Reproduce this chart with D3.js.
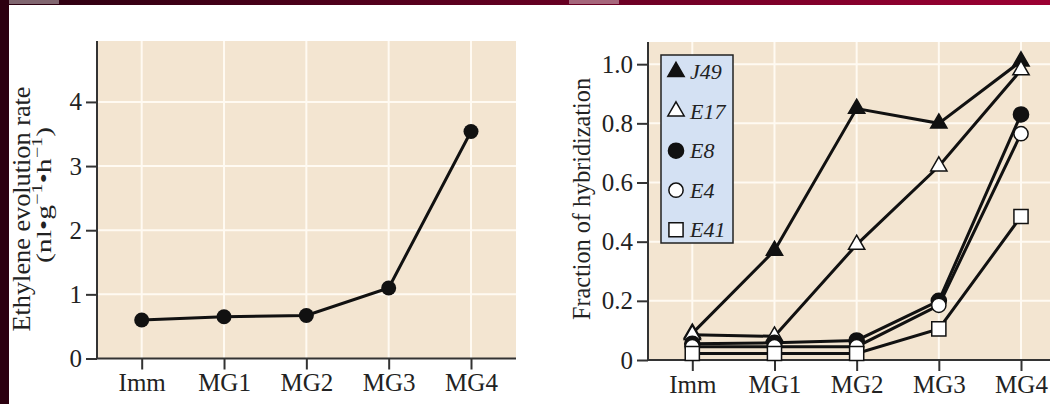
<!DOCTYPE html>
<html>
<head>
<meta charset="utf-8">
<script src="https://cdn.jsdelivr.net/npm/d3@7"></script>
<style>
body { margin: 0; background: #fff; }
svg { display: block; }
.tick line { stroke: #333; stroke-width: 2; }
.axis_title { font-family: "Liberation Serif", serif; font-size: 25px; fill: #222; }
.legend_label { font-family: "Liberation Serif", serif; font-size: 22px; font-style: italic; fill: #222; }
</style>
</head>
<body>
<svg width="1050" height="404"></svg>
<script>
// stages along both x axes
var stages = ["Imm", "MG1", "MG2", "MG3", "MG4"];

// left panel: ethylene evolution rate
var ethylene = [0.60, 0.65, 0.67, 1.10, 3.54];
var ethyleneTicks = [0, 1, 2, 3, 4];

// right panel: fraction of hybridization per probe
var probes = ["J49", "E17", "E8", "E4", "E41"];
var j49 = [0.09, 0.37, 0.85, 0.80, 1.01];
var e17 = [0.085, 0.08, 0.39, 0.655, 0.98];
var e8 = [0.055, 0.058, 0.066, 0.20, 0.83];
var e4 = [0.045, 0.045, 0.045, 0.185, 0.765];
var e41 = [0.022, 0.022, 0.022, 0.105, 0.485];
var fractionTicks = [0, 0.2, 0.4, 0.6, 0.8, 1.0];
var fractionLabels = ["0", "0.2", "0.4", "0.6", "0.8", "1.0"];

var svg = d3.select("svg");
var beige = "#f3e5d1";
var ink = "#111";

// page frame: dark band on top and left
var grad = svg.append("defs").append("linearGradient").attr("id", "band");
grad.append("stop").attr("offset", "0%").attr("stop-color", "#2a0010");
grad.append("stop").attr("offset", "100%").attr("stop-color", "#9c0033");
svg.append("rect").attr("x", 0).attr("y", 0).attr("width", 1050).attr("height", 5).attr("fill", "url(#band)");
svg.append("rect").attr("x", 0).attr("y", 0).attr("width", 9).attr("height", 404).attr("fill", "#2c0010");
svg.append("rect").attr("x", 9).attr("y", 0).attr("width", 50).attr("height", 4).attr("fill", "#fff").attr("opacity", 0.4);
svg.append("rect").attr("x", 569).attr("y", 0).attr("width", 50).attr("height", 4).attr("fill", "#fff").attr("opacity", 0.4);

function styleAxis(a) {
	a.select(".domain").remove();
	a.attr("font-family", "'Liberation Serif', serif").attr("font-size", 25);
	a.selectAll("text").attr("fill", "#222");
}

function drawPanel(opts) {
	var g = svg.append("g");
	var x = opts.x, y = opts.y;
	var left = opts.left, right = opts.right;
	var top = y.range()[1], bottom = y.range()[0];

	g.append("rect")
		.attr("x", left).attr("y", top)
		.attr("width", right - left).attr("height", bottom - top)
		.attr("fill", beige);

	// white grid
	g.selectAll(".vgrid")
		.data(stages)
		.enter()
		.append("line")
		.attr("x1", function(d) { return x(d); })
		.attr("x2", function(d) { return x(d); })
		.attr("y1", top).attr("y2", bottom)
		.attr("stroke", "#fffaf2").attr("stroke-width", 2);

	g.selectAll(".hgrid")
		.data(opts.ticks.filter(function(t) { return t > 0; }))
		.enter()
		.append("line")
		.attr("x1", left).attr("x2", right)
		.attr("y1", function(d) { return y(d); })
		.attr("y2", function(d) { return y(d); })
		.attr("stroke", "#fffaf2").attr("stroke-width", 2);

	var yAxis = d3.axisLeft(y)
		.tickValues(opts.ticks)
		.tickFormat(function(d, i) { return opts.labels[i]; })
		.tickSize(11).tickSizeOuter(0).tickPadding(4);
	g.append("g").attr("transform", "translate(" + left + ",0)").call(yAxis).call(styleAxis);

	var xAxis = d3.axisBottom(x).tickSize(11).tickSizeOuter(0).tickPadding(4);
	g.append("g").attr("transform", "translate(0," + bottom + ")").call(xAxis).call(styleAxis);

	g.append("path")
		.attr("d", "M" + left + "," + top + "V" + bottom + "H" + right)
		.attr("fill", "none").attr("stroke", "#333").attr("stroke-width", 2);

	return g;
}

// ---- left panel ----
var xl = d3.scalePoint().domain(stages).range([141.7, 471]);
var yl = d3.scaleLinear().domain([0, 4.95]).range([358.5, 41]);
var gl = drawPanel({ x: xl, y: yl, left: 97, right: 516, ticks: ethyleneTicks, labels: ethyleneTicks.map(String) });

var lineL = d3.line()
	.x(function(d, i) { return xl(stages[i]); })
	.y(function(d) { return yl(d); });

gl.append("path").datum(ethylene)
	.attr("d", lineL)
	.attr("fill", "none").attr("stroke", ink).attr("stroke-width", 3);

gl.selectAll(".dot")
	.data(ethylene)
	.enter()
	.append("circle")
	.attr("cx", function(d, i) { return xl(stages[i]); })
	.attr("cy", function(d) { return yl(d); })
	.attr("r", 7.5)
	.attr("fill", ink);

svg.append("text").attr("class", "axis_title")
	.attr("transform", "translate(30,209) rotate(-90)")
	.attr("text-anchor", "middle")
	.attr("textLength", 245).attr("lengthAdjust", "spacingAndGlyphs")
	.text("Ethylene evolution rate");

var unit = svg.append("text").attr("class", "axis_title")
	.attr("transform", "translate(51,195) rotate(-90)")
	.attr("text-anchor", "middle")
	.style("font-size", "22px")
	.attr("textLength", 136).attr("lengthAdjust", "spacingAndGlyphs");
unit.append("tspan").text("(nl\u2022g");
unit.append("tspan").attr("dy", -9).style("font-size", "15px").text("\u22121");
unit.append("tspan").attr("dy", 9).text("\u2022h");
unit.append("tspan").attr("dy", -9).style("font-size", "15px").text("\u22121");
unit.append("tspan").attr("dy", 9).text(")");

// ---- right panel ----
var xr = d3.scalePoint().domain(stages).range([692.3, 1021]);
var yr = d3.scaleLinear().domain([0, 1.075]).range([360, 42]);
var gr = drawPanel({ x: xr, y: yr, left: 648, right: 1050, ticks: fractionTicks, labels: fractionLabels });

var series = [
	{ name: "J49", values: j49, shape: d3.symbolTriangle, size: 115, fill: ink },
	{ name: "E17", values: e17, shape: d3.symbolTriangle, size: 115, fill: "#fff" },
	{ name: "E8", values: e8, shape: d3.symbolCircle, size: 180, fill: ink },
	{ name: "E4", values: e4, shape: d3.symbolCircle, size: 160, fill: "#fff" },
	{ name: "E41", values: e41, shape: d3.symbolSquare, size: 200, fill: "#fff" }
];

var lineR = d3.line()
	.x(function(d, i) { return xr(stages[i]); })
	.y(function(d) { return yr(d); });

series.forEach(function(s) {
	gr.append("path").datum(s.values)
		.attr("d", lineR)
		.attr("fill", "none").attr("stroke", ink).attr("stroke-width", 3);
});

series.forEach(function(s) {
	gr.selectAll(".m_" + s.name)
		.data(s.values)
		.enter()
		.append("path")
		.attr("transform", function(d, i) { return "translate(" + xr(stages[i]) + "," + yr(d) + ")"; })
		.attr("d", d3.symbol().type(s.shape).size(s.size))
		.attr("fill", s.fill).attr("stroke", ink).attr("stroke-width", 1.5);
});

svg.append("text").attr("class", "axis_title")
	.attr("transform", "translate(590,199) rotate(-90)")
	.attr("text-anchor", "middle")
	.attr("textLength", 242).attr("lengthAdjust", "spacingAndGlyphs")
	.text("Fraction of hybridization");

// legend
var legend = svg.append("g");
legend.append("rect")
	.attr("x", 661).attr("y", 55).attr("width", 72).attr("height", 188)
	.attr("fill", "#d4e1f3").attr("stroke", "#222").attr("stroke-width", 1.5);

var item = legend.selectAll(".item")
	.data(series)
	.enter()
	.append("g")
	.attr("transform", function(d, i) { return "translate(676," + (71.7 + i * 39.5) + ")"; });

item.append("path")
	.attr("d", function(s) { return d3.symbol().type(s.shape).size(s.size)(); })
	.attr("fill", function(s) { return s.fill; })
	.attr("stroke", ink).attr("stroke-width", 1.5);

item.append("text").attr("class", "legend_label")
	.attr("x", 14).attr("y", 7.5)
	.text(function(s) { return s.name; });
</script>
</body>
</html>
